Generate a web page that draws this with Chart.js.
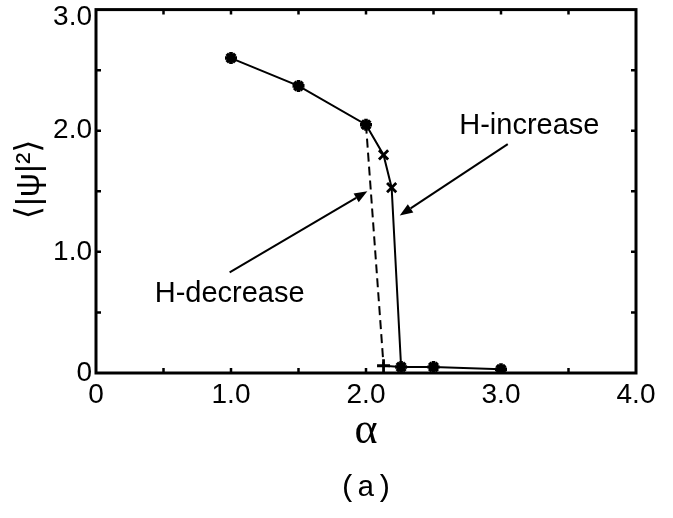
<!DOCTYPE html>
<html><head><meta charset="utf-8">
<script src="https://cdn.jsdelivr.net/npm/chart.js@4/dist/chart.umd.min.js"></script>
<style>html,body{margin:0;padding:0;background:#fff}#wrap{width:673px;height:518px}</style>
</head><body><div id="wrap"><canvas id="c" width="673" height="518"></canvas></div>
<script>
// ---- data ----
const increaseAlpha  = [1.0, 1.5, 2.0, 2.13, 2.19, 2.26, 2.5, 3.0];
const increaseValue  = [2.6, 2.37, 2.05, 1.8, 1.53, 0.05, 0.05, 0.03];
const increaseMarker = ['star','star','star','crossRot','crossRot','star','star','star'];
const decreaseAlpha  = [2.0, 2.13, 2.26];
const decreaseValue  = [2.05, 0.06, 0.05];
const decreaseMarker = ['circle','cross','circle'];
const xTickValues = [0, 1, 2, 3, 4];
const xTickLabels = ['0', '1.0', '2.0', '3.0', '4.0'];
const yTickValues = [0, 1, 2, 3];
const yTickLabels = ['0', '1.0', '2.0', '3.0'];
const xTitle = 'α';
const yTitle = '\u2002\u2009⟨|ψ|²⟩';
const panelLabel = '(a)';
const labelTexts = ['H-increase', 'H-decrease'];

// annotation placement (data coordinates)
const annotations = [
  {text: labelTexts[0], at: [3.21, 2.04], tail: [3.05, 1.89], head: [2.25, 1.30]},
  {text: labelTexts[1], at: [0.99, 0.65], tail: [0.99, 0.83], head: [2.01, 1.50]}
];

const pts = (xs, ys) => xs.map((x, i) => ({x, y: ys[i]}));
const lookup = (vals, labels) => v => {
  const i = vals.findIndex(t => Math.abs(t - v) < 1e-9);
  return i >= 0 ? labels[i] : '';
};

const SANS = '"Liberation Sans", Arial, "DejaVu Sans", sans-serif';
const MONO = '"Liberation Mono", "DejaVu Sans Mono", monospace';
const Y_MAX = 3;

const framePlugin = {
  id: 'frame',
  afterDraw(chart) {
    const {ctx, chartArea: ca, scales: {x, y}} = chart;
    ctx.save();
    ctx.strokeStyle = '#000';
    // inward ticks
    ctx.lineWidth = 2.5;
    const tl = 5;
    x.ticks.forEach(t => {
      if (t.value <= x.min || t.value >= x.max) return;
      const px = x.getPixelForValue(t.value);
      ctx.beginPath();
      ctx.moveTo(px, ca.bottom); ctx.lineTo(px, ca.bottom - tl);
      ctx.moveTo(px, ca.top); ctx.lineTo(px, ca.top + tl);
      ctx.stroke();
    });
    y.ticks.forEach(t => {
      if (t.value <= y.min || t.value >= y.max) return;
      const py = y.getPixelForValue(t.value);
      ctx.beginPath();
      ctx.moveTo(ca.left, py); ctx.lineTo(ca.left + tl, py);
      ctx.moveTo(ca.right, py); ctx.lineTo(ca.right - tl, py);
      ctx.stroke();
    });
    // frame
    ctx.lineWidth = 3;
    ctx.strokeRect(ca.left, ca.top, ca.right - ca.left, ca.bottom - ca.top);
    // annotations
    ctx.fillStyle = '#000';
    ctx.font = '29px ' + SANS;
    ctx.textAlign = 'center';
    ctx.textBaseline = 'middle';
    annotations.forEach(a => {
      ctx.fillText(a.text, x.getPixelForValue(a.at[0]), y.getPixelForValue(a.at[1]));
      const x0 = x.getPixelForValue(a.tail[0]), y0 = y.getPixelForValue(a.tail[1]);
      const x1 = x.getPixelForValue(a.head[0]), y1 = y.getPixelForValue(a.head[1]);
      const ang = Math.atan2(y1 - y0, x1 - x0);
      const hl = 13, hw = 5;
      ctx.lineWidth = 2;
      ctx.beginPath();
      ctx.moveTo(x0, y0);
      ctx.lineTo(x1 - hl * Math.cos(ang), y1 - hl * Math.sin(ang));
      ctx.stroke();
      ctx.beginPath();
      ctx.moveTo(x1, y1);
      ctx.lineTo(x1 - hl * Math.cos(ang) + hw * Math.sin(ang), y1 - hl * Math.sin(ang) - hw * Math.cos(ang));
      ctx.lineTo(x1 - hl * Math.cos(ang) - hw * Math.sin(ang), y1 - hl * Math.sin(ang) + hw * Math.cos(ang));
      ctx.closePath();
      ctx.fill();
    });
    // panel label, centred under the plot
    ctx.font = '30px ' + MONO;
    ctx.fillText(panelLabel, (ca.left + ca.right) / 2, x.bottom + 20);
    ctx.restore();
  }
};

const yLabel = lookup(yTickValues, yTickLabels);

new Chart(document.getElementById('c'), {
  type: 'line',
  data: {
    datasets: [
      {
        label: 'H-increase',
        data: pts(increaseAlpha, increaseValue),
        borderColor: '#000',
        backgroundColor: '#000',
        borderWidth: 2,
        pointStyle: increaseMarker,
        pointRadius: increaseMarker.map(m => m === 'star' ? 6 : 6.5),
        pointBorderWidth: increaseMarker.map(m => m === 'star' ? 3.6 : 2.8),
        pointBorderColor: '#000',
        pointBackgroundColor: '#000',
        tension: 0
      },
      {
        label: 'H-decrease',
        data: pts(decreaseAlpha, decreaseValue),
        borderColor: '#000',
        backgroundColor: '#000',
        borderWidth: 2,
        segment: { borderDash: c => c.p0DataIndex === 0 ? [9, 5] : [] },
        pointStyle: decreaseMarker,
        pointRadius: decreaseMarker.map(m => m === 'cross' ? 6.5 : 0),
        pointBorderWidth: 2.8,
        pointBorderColor: '#000',
        tension: 0
      }
    ]
  },
  options: {
    responsive: false,
    animation: false,
    events: [],
    layout: { padding: { top: 4, right: 37, left: 0, bottom: 50 } },
    plugins: {
      legend: { display: false },
      tooltip: { enabled: false },
      title: { display: false }
    },
    scales: {
      x: {
        type: 'linear',
        min: 0, max: 4,
        grid: { display: false, drawTicks: false, tickLength: 0 },
        border: { display: false },
        ticks: {
          stepSize: 0.5,
          autoSkip: false,
          maxRotation: 0,
          padding: 5,
          color: '#000',
          font: { family: SANS, size: 28 },
          callback: lookup(xTickValues, xTickLabels)
        },
        title: {
          display: true,
          text: xTitle,
          color: '#000',
          font: { family: '"Liberation Serif", "DejaVu Serif", serif', size: 44 },
          padding: { top: 0, bottom: 10 }
        },
        afterFit: s => { s.height = 95; }
      },
      y: {
        type: 'linear',
        min: 0, max: Y_MAX,
        grid: { display: false, drawTicks: false, tickLength: 0 },
        border: { display: false },
        ticks: {
          stepSize: 0.5,
          autoSkip: false,
          padding: 4,
          color: '#000',
          font: c => (c.tick && c.tick.value === Y_MAX)
            ? { family: SANS, size: 28, lineHeight: 0.55 }
            : { family: SANS, size: 28 },
          // keep the top label inside the canvas (pushed slightly below its tick)
          callback: v => v === Y_MAX ? ['', yLabel(v)] : yLabel(v)
        },
        title: {
          display: true,
          text: yTitle,
          color: '#000',
          font: { family: SANS + ', "DejaVu Sans"', size: 34 },
          padding: { top: 9, bottom: 0 }
        },
        afterFit: s => { s.width = 96; s.paddingTop = 8; s.paddingBottom = 0; }
      }
    }
  },
  plugins: [framePlugin]
});
</script>
</body></html>
